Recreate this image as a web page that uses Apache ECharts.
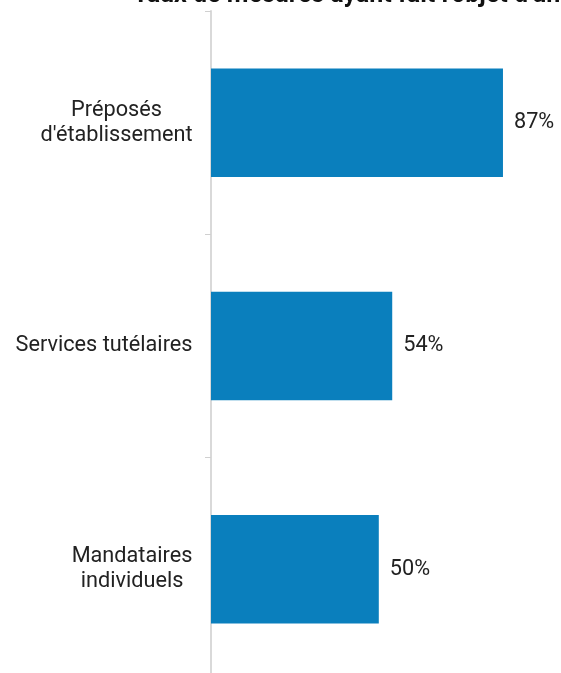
<!DOCTYPE html>
<html><head><meta charset="utf-8">
<script src="https://cdn.jsdelivr.net/npm/echarts@6/dist/echarts.min.js"></script>
<style>html,body{margin:0;padding:0;background:#fff;}#c{width:561px;height:673px;}</style>
</head><body><div id="c"></div>
<script>
const categories = ["Préposés\nd'établissement", "Services tutélaires", "Mandataires\nindividuels"];
const values = [87, 54, 50];
const titleText = "Taux de mesures ayant fait l'objet d'un suivi par type";

const FS = 21.7;
const ctx = document.createElement('canvas').getContext('2d');
ctx.font = FS + 'px Roboto';
const rich = {};
categories.forEach((c, i) => {
  const w = Math.max(...c.split('\n').map(s => ctx.measureText(s).width));
  rich['l' + i] = {width: Math.ceil(w) + 1, align: 'center', fontFamily: 'Roboto', fontSize: FS, color: '#222', lineHeight: 25};
});

const chart = echarts.init(document.getElementById('c'), null, {renderer: 'canvas'});
chart.setOption({
  animation: false,
  title: {
    text: titleText, left: 128, top: -22,
    textStyle: {fontFamily: 'Roboto', fontWeight: 'bold', fontSize: 25, color: '#111'}
  },
  grid: {left: 211, top: 11, width: 335.6, height: 670, outerBoundsMode: 'none', containLabel: false},
  xAxis: {type: 'value', min: 0, max: 100, show: false},
  yAxis: {
    type: 'category', data: categories, inverse: true,
    axisLine: {lineStyle: {color: '#d9d9d9', width: 2}},
    axisTick: {show: true, interval: 0, length: 6, lineStyle: {color: '#d0d0d0', width: 1}},
    axisLabel: {fontFamily: 'Roboto', fontSize: FS, color: '#222', margin: 18, lineHeight: 25,
      align: 'right', rich: rich,
      formatter: (v, i) => v.split('\n').map(s => '{l' + i + '|' + s + '}').join('\n')}
  },
  series: [{
    type: 'bar', data: values, barWidth: '48.6%',
    itemStyle: {color: '#0a7fbd'},
    label: {show: true, position: 'right', distance: 11, formatter: '{c}%',
      fontFamily: 'Roboto', fontSize: FS, color: '#222'}
  }]
});
</script></body></html>
